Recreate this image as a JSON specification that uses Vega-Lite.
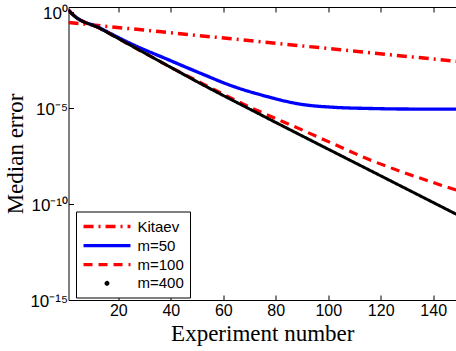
{
  "$schema": "https://vega.github.io/schema/vega-lite/v6.json",
  "width": 387.5,
  "height": 293,
  "autosize": {"type": "none"},
  "padding": {"left": 68.5, "top": 7, "right": 0, "bottom": 51},
  "background": "white",
  "config": {
    "view": {"stroke": null},
    "axis": {"grid": false, "domainColor": "black", "domainWidth": 1, "tickColor": "black", "labelColor": "black", "titleColor": "black", "labelFont": "Liberation Sans", "titleFont": "Liberation Serif", "titleFontWeight": "normal"}
  },
  "data": {
    "values": [
      {"series": "Kitaev", "experiment": 1, "error": 0.295},
      {"series": "Kitaev", "experiment": 50, "error": 0.0629},
      {"series": "Kitaev", "experiment": 100, "error": 0.0130},
      {"series": "Kitaev", "experiment": 150, "error": 0.00268},
      {"series": "m=50", "experiment": 1, "error": 1.35},
      {"series": "m=50", "experiment": 2, "error": 0.933},
      {"series": "m=50", "experiment": 13, "error": 0.151},
      {"series": "m=50", "experiment": 26, "error": 0.0195},
      {"series": "m=50", "experiment": 38, "error": 0.00389},
      {"series": "m=50", "experiment": 51, "error": 0.000692},
      {"series": "m=50", "experiment": 64, "error": 0.000135},
      {"series": "m=50", "experiment": 77, "error": 3.98e-5},
      {"series": "m=50", "experiment": 89, "error": 1.66e-5},
      {"series": "m=50", "experiment": 102, "error": 1.12e-5},
      {"series": "m=50", "experiment": 115, "error": 9.77e-6},
      {"series": "m=50", "experiment": 128, "error": 9.12e-6},
      {"series": "m=50", "experiment": 150, "error": 8.91e-6},
      {"series": "m=100", "experiment": 1, "error": 1.35},
      {"series": "m=100", "experiment": 2, "error": 0.933},
      {"series": "m=100", "experiment": 13, "error": 0.1445},
      {"series": "m=100", "experiment": 30, "error": 0.00759},
      {"series": "m=100", "experiment": 40, "error": 0.00135},
      {"series": "m=100", "experiment": 51, "error": 0.000229},
      {"series": "m=100", "experiment": 70, "error": 1.17e-5},
      {"series": "m=100", "experiment": 90, "error": 7.41e-7},
      {"series": "m=100", "experiment": 103, "error": 1.20e-7},
      {"series": "m=100", "experiment": 116, "error": 2.0e-8},
      {"series": "m=100", "experiment": 129, "error": 4.37e-9},
      {"series": "m=100", "experiment": 143, "error": 9.77e-10},
      {"series": "m=100", "experiment": 150, "error": 4.79e-10},
      {"series": "m=400", "experiment": 1, "error": 1.35},
      {"series": "m=400", "experiment": 2, "error": 0.933},
      {"series": "m=400", "experiment": 13, "error": 0.1445},
      {"series": "m=400", "experiment": 30, "error": 0.00759},
      {"series": "m=400", "experiment": 40, "error": 0.00135},
      {"series": "m=400", "experiment": 51, "error": 0.000204},
      {"series": "m=400", "experiment": 70, "error": 9.12e-6},
      {"series": "m=400", "experiment": 90, "error": 3.63e-7},
      {"series": "m=400", "experiment": 110, "error": 1.48e-8},
      {"series": "m=400", "experiment": 130, "error": 6.03e-10},
      {"series": "m=400", "experiment": 150, "error": 2.45e-11}
    ]
  },
  "layer": [
    {
      "mark": {"type": "line", "clip": true, "interpolate": "monotone", "strokeCap": "butt"},
      "encoding": {
        "x": {
          "field": "experiment", "type": "quantitative",
          "scale": {"domain": [1, 148.7], "nice": false, "zero": false},
          "axis": {"orient": "bottom", "values": [20, 40, 60, 80, 100, 120, 140], "tickSize": -5, "labelPadding": 7, "labelFontSize": 16, "labelFlush": false, "title": "Experiment number", "titleFontSize": 23, "titleY": 40, "titleBaseline": "alphabetic"}
        },
        "y": {
          "field": "error", "type": "quantitative",
          "scale": {"type": "log", "domain": [1e-15, 1.9], "nice": false},
          "axis": {"values": [1, 1e-5, 1e-10, 1e-15], "tickSize": -5, "labelPadding": 6, "labelFontSize": 17, "labelBaseline": "middle", "labelOffset": 1, "labelExpr": "datum.value >= 0.5 ? '10⁰' : datum.value >= 1e-6 ? '10⁻⁵' : datum.value >= 1e-11 ? '10⁻¹⁰' : '10⁻¹⁵'", "title": "Median error", "titleFontSize": 23, "titleX": -46, "titleBaseline": "alphabetic", "titleAngle": -90}
        },
        "color": {
          "field": "series", "type": "nominal",
          "scale": {"domain": ["Kitaev", "m=50", "m=100", "m=400"], "range": ["#ff0000", "#0000ff", "#ff0000", "#000000"]},
          "legend": {
            "title": null, "orient": "none", "legendX": 7.5, "legendY": 204.5,
            "fillColor": "white", "strokeColor": "black", "padding": 5.5,
            "symbolType": "M-3.13,0H3.13", "symbolSize": 225, "symbolStrokeWidth": 3.5, "symbolOffset": 16,
            "labelFontSize": 15, "labelFont": "Liberation Sans", "labelColor": "black",
            "rowPadding": 1.1, "labelOffset": 21,
            "encode": {
              "symbols": {
                "update": {
                  "shape": {"signal": "datum.value === 'm=400' ? 'circle' : 'M-3.13,0H3.13'"},
                  "size": {"signal": "datum.value === 'm=400' ? 4 : 225"},
                  "strokeDash": {"signal": "datum.value === 'Kitaev' ? [10,5,2,5] : datum.value === 'm=100' ? [9,6] : [1,0]"},
                  "fill": {"signal": "datum.value === 'm=400' ? 'black' : 'transparent'"},
                  "stroke": {"signal": "datum.value === 'm=400' ? 'black' : datum.value === 'm=50' ? '#0000ff' : '#ff0000'"},
                  "strokeWidth": {"signal": "datum.value === 'm=400' ? 0 : datum.value === 'm=50' ? 3 : 3.5"}
                }
              }
            }
          }
        },
        "strokeDash": {
          "field": "series", "type": "nominal",
          "scale": {"domain": ["Kitaev", "m=50", "m=100", "m=400"], "range": [[10, 5, 2, 5], [1, 0], [9, 6], [1, 0]]},
          "legend": null
        },
        "strokeWidth": {
          "field": "series", "type": "ordinal",
          "scale": {"domain": ["Kitaev", "m=50", "m=100", "m=400"], "range": [3.5, 3, 3.5, 2.5]},
          "legend": null
        }
      }
    },
    {
      "mark": {"type": "point", "opacity": 0},
      "encoding": {
        "x": {
          "field": "experiment", "type": "quantitative",
          "axis": {"orient": "top", "values": [20, 40, 60, 80, 100, 120, 140], "tickSize": -5, "labels": false, "title": null}
        }
      }
    }
  ],
  "resolve": {"axis": {"x": "independent"}}
}
